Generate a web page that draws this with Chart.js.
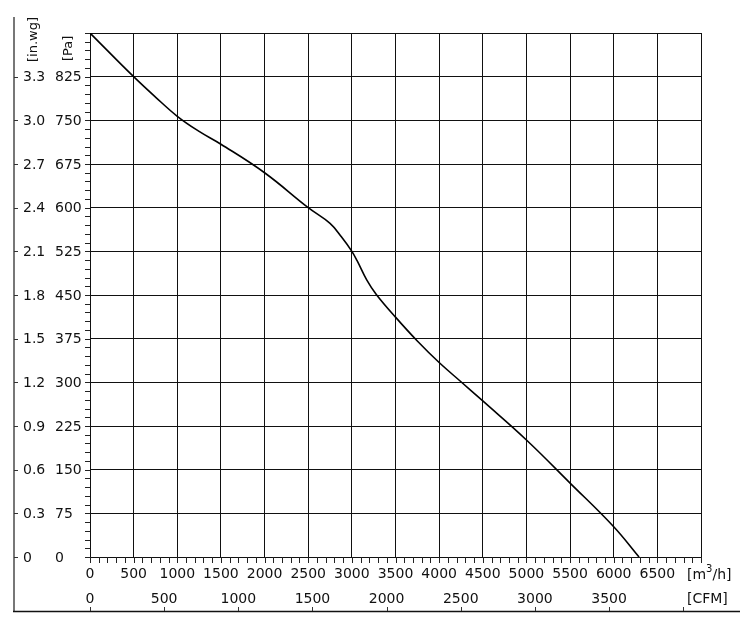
<!DOCTYPE html>
<html>
<head>
<meta charset="utf-8">
<script src="https://cdn.jsdelivr.net/npm/chart.js@4/dist/chart.umd.min.js"></script>
<style>
  html, body { margin: 0; padding: 0; background: #fff; }
  #wrap { width: 754px; height: 623px; position: relative; }
</style>
</head>
<body>
<div id="wrap"><canvas id="c"></canvas></div>
<script>
// ---- data ----
const flowM3h = [0, 500, 750, 1000, 1250, 1500, 2000, 2500, 2750, 2880, 3000, 3060, 3170, 3280, 3500, 3750, 4000, 4250, 4500, 5000, 5500, 6000, 6290];
const pressurePa = [900, 825, 790, 757, 731, 709, 660, 600, 573, 550, 525, 509, 476, 451, 412, 371, 334, 301, 268, 201, 127, 52, 0];

// ---- axes / tick labels ----
const paTicks = [0, 75, 150, 225, 300, 375, 450, 525, 600, 675, 750, 825];
const inwgLabels = ['0', '0.3', '0.6', '0.9', '1.2', '1.5', '1.8', '2.1', '2.4', '2.7', '3.0', '3.3'];
const m3hTicks = [0, 500, 1000, 1500, 2000, 2500, 3000, 3500, 4000, 4500, 5000, 5500, 6000, 6500];
const cfmTicks = [0, 500, 1000, 1500, 2000, 2500, 3000, 3500];
const cfmExtraTick = 4000;
const CFM_TO_M3H = 1.699;
const X_MAX = 7000, X_STEP = 500, X_MINOR = 100;
const Y_MAX = 900, Y_STEP = 75, Y_MINOR = 15;

const FONT = '14px "DejaVu Sans", Verdana, sans-serif';
const UNIT_FONT = '13px "DejaVu Sans", Verdana, sans-serif';
const TEXT = '#111';

const fanAxes = {
  id: 'fanAxes',
  afterDraw(chart) {
    const { ctx, scales: { x, y } } = chart;
    const ln = (x1, y1, x2, y2) => { ctx.beginPath(); ctx.moveTo(x1, y1); ctx.lineTo(x2, y2); ctx.stroke(); };
    ctx.save();
    ctx.strokeStyle = '#222';
    ctx.lineWidth = 1;
    // minor ticks on flow axis
    for (let v = 0; v <= X_MAX; v += X_MINOR) {
      const px = Math.round(x.getPixelForValue(v)) + 0.5;
      ln(px, y.bottom, px, y.bottom + 6);
    }
    // minor ticks on pressure axis
    for (let v = 0; v <= Y_MAX; v += Y_MINOR) {
      const py = Math.round(y.getPixelForValue(v)) + 0.5;
      ln(x.left - 5, py, x.left, py);
    }
    // frame
    ctx.strokeStyle = '#777';
    ctx.lineWidth = 2;
    ln(14, 17, 14, 612);
    ctx.strokeStyle = '#111';
    ctx.lineWidth = 1.5;
    ln(13, 611.5, 740, 611.5);
    // in.wg ticks
    ctx.lineWidth = 1;
    ctx.strokeStyle = '#333';
    paTicks.forEach(v => {
      const py = Math.round(y.getPixelForValue(v)) + 0.5;
      ln(14, py, 18, py);
    });
    // CFM ticks
    cfmTicks.concat([cfmExtraTick]).forEach(v => {
      const px = Math.round(x.getPixelForValue(v * CFM_TO_M3H)) + 0.5;
      ln(px, 607, px, 611);
    });

    // labels
    ctx.fillStyle = TEXT;
    ctx.font = FONT;
    ctx.textBaseline = 'middle';
    ctx.textAlign = 'left';
    paTicks.forEach((v, i) => {
      const py = y.getPixelForValue(v) + 1;
      ctx.fillText(String(v), 55, py);
      ctx.fillText(inwgLabels[i], 23, py);
    });
    ctx.textAlign = 'center';
    m3hTicks.forEach(v => ctx.fillText(String(v), x.getPixelForValue(v), 574));
    cfmTicks.forEach(v => ctx.fillText(String(v), x.getPixelForValue(v * CFM_TO_M3H), 599));
    ctx.textAlign = 'left';
    // [m³/h]
    let tx = 687;
    ctx.fillText('[m', tx, 575); tx += ctx.measureText('[m').width;
    ctx.font = '10px "DejaVu Sans", Verdana, sans-serif';
    ctx.fillText('3', tx, 569); tx += ctx.measureText('3').width;
    ctx.font = FONT;
    ctx.fillText('/h]', tx, 575);
    ctx.fillText('[CFM]', 687, 599);
    // rotated unit labels
    ctx.font = UNIT_FONT;
    ctx.save();
    ctx.translate(34, 62); ctx.rotate(-Math.PI / 2);
    ctx.fillText('[in.wg]', 0, 0);
    ctx.restore();
    ctx.save();
    ctx.translate(69, 61); ctx.rotate(-Math.PI / 2);
    ctx.fillText('[Pa]', 0, 0);
    ctx.restore();
    ctx.restore();
  }
};

new Chart(document.getElementById('c'), {
  type: 'scatter',
  data: {
    datasets: [{
      data: flowM3h.map((f, i) => ({ x: f, y: pressurePa[i] })),
      showLine: true,
      borderColor: '#000',
      borderWidth: 1.6,
      pointRadius: 0,
      tension: 0.4,
      fill: false
    }]
  },
  options: {
    responsive: true,
    maintainAspectRatio: false,
    animation: false,
    devicePixelRatio: 1,
    layout: { padding: { left: 90, top: 33, right: 53, bottom: 66 } },
    plugins: { legend: { display: false }, tooltip: { enabled: false } },
    scales: {
      x: {
        type: 'linear', min: 0, max: X_MAX,
        ticks: { display: false, stepSize: X_STEP },
        grid: { color: '#111', lineWidth: 1, drawTicks: false },
        border: { display: true, color: '#111', width: 1 }
      },
      y: {
        type: 'linear', min: 0, max: Y_MAX,
        ticks: { display: false, stepSize: Y_STEP },
        grid: { color: '#111', lineWidth: 1, drawTicks: false },
        border: { display: true, color: '#111', width: 1 }
      }
    }
  },
  plugins: [fanAxes]
});
</script>
</body>
</html>
